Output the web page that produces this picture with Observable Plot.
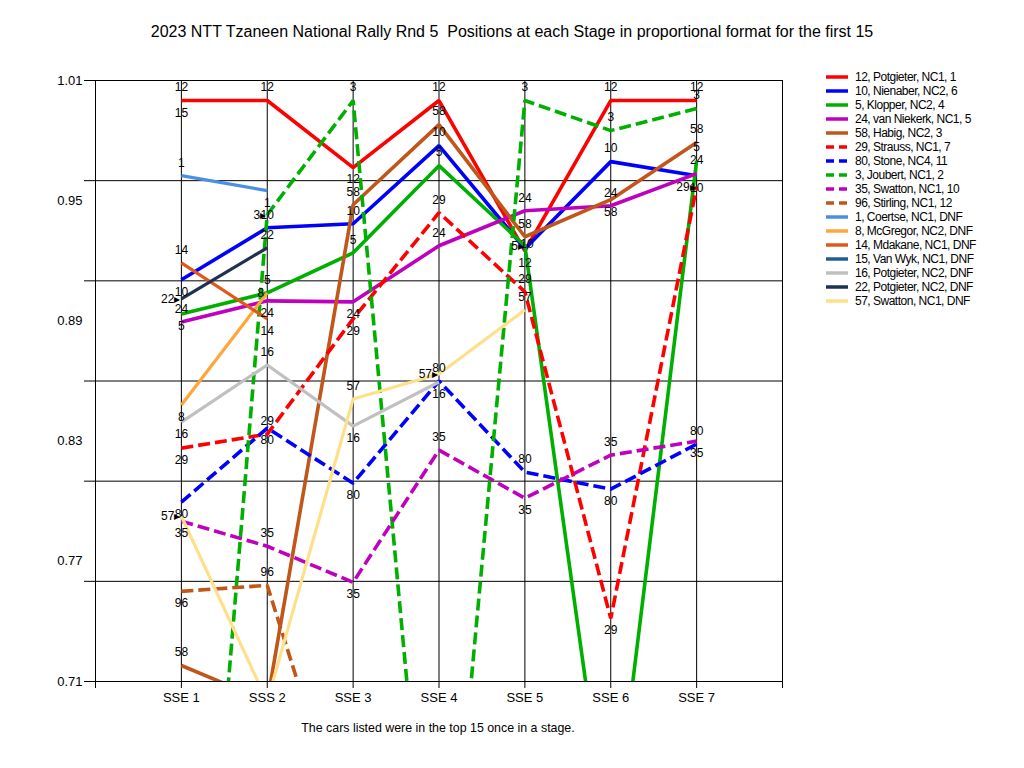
<!DOCTYPE html>
<html>
<head>
<meta charset="utf-8">
<script src="https://cdn.jsdelivr.net/npm/d3@7"></script>
<script src="https://cdn.jsdelivr.net/npm/@observablehq/plot@0.6"></script>
<style>
  html, body { margin: 0; padding: 0; background: #fff; }
  body { width: 1024px; height: 768px; position: relative; overflow: hidden; font-family: "Liberation Sans", Arial, sans-serif; color: #000; }
  #title { position: absolute; left: 0; top: 23px; width: 1024px; text-align: center; font-size: 16px; white-space: nowrap; }
  #chart { position: absolute; left: 0; top: 60px; }
  #caption { position: absolute; left: 0; top: 721px; width: 876px; text-align: center; font-size: 12.4px; }
  #legend { position: absolute; left: 826px; top: 70px; font-size: 12px; letter-spacing: -0.5px; }
  .row { height: 14px; display: flex; align-items: center; white-space: nowrap; }
  .row svg { margin-right: 7px; flex: none; }
</style>
</head>
<body>
<div id="title">2023 NTT Tzaneen National Rally Rnd 5&nbsp; Positions at each Stage in proportional format for the first 15</div>
<div id="chart"></div>
<div id="caption">The cars listed were in the top 15 once in a stage.</div>
<div id="legend"></div>
<script>
// ---- data ----
const stages = ["SSE 1", "SSS 2", "SSE 3", "SSE 4", "SSE 5", "SSE 6", "SSE 7"];
const cars = ["12", "10", "5", "24", "58", "29", "80", "3", "35", "96", "1", "8", "14", "15", "16", "22", "57"];
const legendNames = [
  "12, Potgieter, NC1, 1", "10, Nienaber, NC2, 6", "5, Klopper, NC2, 4", "24, van Niekerk, NC1, 5",
  "58, Habig, NC2, 3", "29, Strauss, NC1, 7", "80, Stone, NC4, 11", "3, Joubert, NC1, 2",
  "35, Swatton, NC1, 10", "96, Stirling, NC1, 12", "1, Coertse, NC1,  DNF", "8, McGregor, NC2,  DNF",
  "14, Mdakane, NC1,  DNF", "15, Van Wyk, NC1,  DNF", "16, Potgieter, NC2,  DNF", "22, Potgieter, NC2,  DNF",
  "57, Swatton, NC1,  DNF"
];
const car12 = [1.0, 1.0, 0.9665, 1.0, 0.925, 1.0, 1.0];
const car10 = [0.9105, 0.9365, 0.9385, 0.9775, 0.926, 0.9695, 0.9625];
const car5  = [0.8935, 0.904, 0.924, 0.9675, 0.9275, 0.62, 0.97];
const car24 = [0.8895, 0.90, 0.8995, 0.9275, 0.945, 0.9475, 0.9635];
const car58 = [0.718, 0.70, 0.948, 0.988, 0.932, 0.9505, 0.979];
const car29 = [0.8265, 0.8335, 0.891, 0.944, 0.9045, 0.7415, 0.957];
const car80 = [0.7995, 0.8365, 0.809, 0.86, 0.8145, 0.806, 0.8285];
const car3  = [0.427, 0.943, 1.0, 0.5365, 1.0, 0.985, 0.996];
const car35 = [0.79, 0.7775, 0.7595, 0.8255, 0.8015, 0.823, 0.83];
const car96 = [0.755, 0.758, 0.622];
const car1  = [0.9625, 0.955];
const car8  = [0.848, 0.904];
const car14 = [0.919, 0.891];
const car15 = [0.9995];
const car16 = [0.8395, 0.868, 0.8375, 0.8595];
const car22 = [0.901, 0.9265];
const car57 = [0.7925, 0.70, 0.851, 0.8635, 0.8955];
const seriesValues = [car12, car10, car5, car24, car58, car29, car80, car3, car35, car96, car1, car8, car14, car15, car16, car22, car57];
const yTickLabels = [1.01, 0.95, 0.89, 0.83, 0.77, 0.71];
const yGridLines = [1.01, 0.96, 0.91, 0.86, 0.81, 0.76, 0.71];

// ---- styles ----
const colors = ["#ff0000", "#0000ff", "#00b000", "#bf00bf", "#c0561a", "#ff0000", "#0000ff", "#00b000", "#bf00bf", "#c0561a",
  "#4a90e2", "#ffa63a", "#e2581c", "#1f5f8f", "#c0c0c0", "#1f3050", "#ffe08a"];
const dashed = [false, false, false, false, false, true, true, true, true, true, false, false, false, false, false, false, false];
// label placement per point: a=above, b=below, l=left, k=left with marker, m=on point, -=none
const labelPlacement = ["aababaa", "baaamab", "baaak-a", "abbaaaa", "a-aaaba", "babaabk", "bbbaaba", "-ka-aaa", "bababab",
  "ba-", "ab", "bl", "ab", "b", "babb", "ka", "k-aka"];

const rows = [];
seriesValues.forEach((vals, i) => {
  vals.forEach((v, j) => {
    if (v != null) rows.push({car: cars[i], idx: i, stage: j + 1, value: v, pos: labelPlacement[i][j] || "-"});
  });
});
const visible = rows.filter(d => d.value >= 0.71 && d.pos !== "-");

const marks = [
  Plot.ruleY(yGridLines, {stroke: "black", strokeWidth: 1}),
  Plot.ruleX(d3.range(1, stages.length + 1), {stroke: "black", strokeWidth: 1}),
  Plot.frame({stroke: "black", strokeWidth: 1}),
  Plot.axisY({ticks: yGridLines, tickSize: 11, tickFormat: () => "", stroke: "black", label: null}),
  Plot.axisY({ticks: yTickLabels, tickSize: 0, tickPadding: 13, fontSize: 13, tickFormat: d3.format(".2f"), label: null}),
  Plot.axisX({ticks: d3.range(0, stages.length + 2), tickSize: 7, tickPadding: 4, fontSize: 13, label: null,
    tickFormat: d => stages[d - 1] ?? ""})
];
cars.forEach((c, i) => {
  marks.push(Plot.line(rows.filter(d => d.idx === i), {
    x: "stage", y: "value", stroke: colors[i], strokeWidth: i >= 10 ? 3.2 : 3.6,
    strokeDasharray: dashed[i] ? "12,5" : null, strokeLinecap: "butt", strokeLinejoin: "miter",
    clip: true
  }));
});
marks.push(
  Plot.text(visible.filter(d => d.pos === "a"), {x: "stage", y: "value", text: "car", dy: -13, fill: "black", fontSize: 12}),
  Plot.text(visible.filter(d => d.pos === "b"), {x: "stage", y: "value", text: "car", dy: 12, fill: "black", fontSize: 12}),
  Plot.text(visible.filter(d => d.pos === "m"), {x: "stage", y: "value", text: "car", dx: 2, dy: -5, fill: "black", fontSize: 12}),
  Plot.text(visible.filter(d => d.pos === "l"), {x: "stage", y: "value", text: "car", dx: -3, textAnchor: "end", fill: "black", fontSize: 12}),
  Plot.text(visible.filter(d => d.pos === "k"), {x: "stage", y: "value", text: d => d.car + "\u25B8", dx: -1, textAnchor: "end", fill: "black", fontSize: 12})
);

const chart = Plot.plot({
  width: 800,
  height: 660,
  marginTop: 20,
  marginBottom: 39,
  marginLeft: 95,
  marginRight: 18,
  style: {fontFamily: "Liberation Sans, Arial, sans-serif", fontSize: "12px", background: "white", color: "black"},
  x: {domain: [0, stages.length + 1], axis: null},
  y: {domain: [0.71, 1.01], axis: null},
  marks
});
document.getElementById("chart").appendChild(chart);

// legend
const legend = document.getElementById("legend");
cars.forEach((c, i) => {
  const row = document.createElement("div");
  row.className = "row";
  const ns = "http://www.w3.org/2000/svg";
  const svg = document.createElementNS(ns, "svg");
  svg.setAttribute("width", 22); svg.setAttribute("height", 14);
  const line = document.createElementNS(ns, "line");
  line.setAttribute("x1", 0); line.setAttribute("x2", 22); line.setAttribute("y1", 7); line.setAttribute("y2", 7);
  line.setAttribute("stroke", colors[i]); line.setAttribute("stroke-width", 3.5);
  if (dashed[i]) line.setAttribute("stroke-dasharray", "8,5");
  svg.appendChild(line);
  row.appendChild(svg);
  const span = document.createElement("span");
  span.textContent = legendNames[i];
  row.appendChild(span);
  legend.appendChild(row);
});
</script>
</body>
</html>
